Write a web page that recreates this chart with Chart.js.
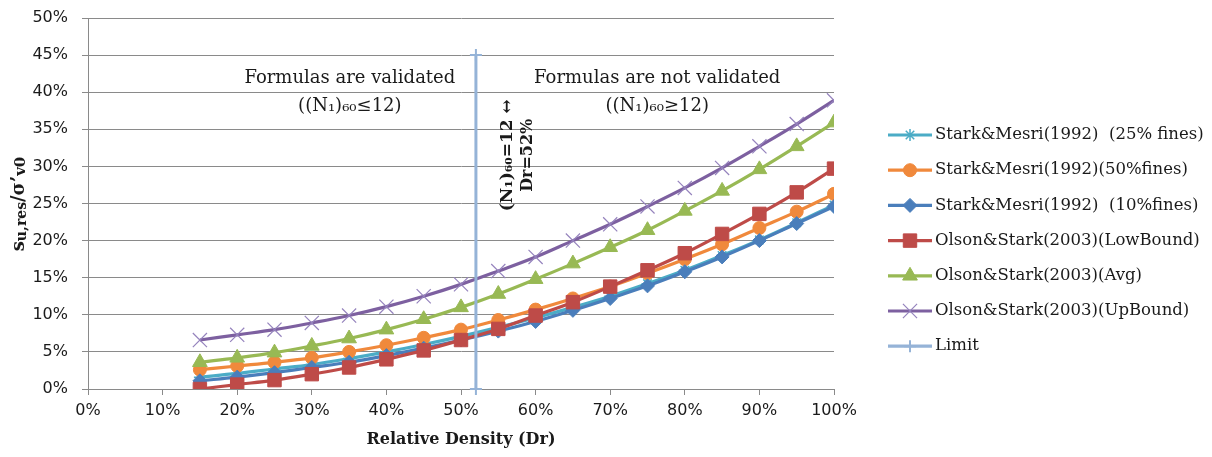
<!DOCTYPE html>
<html>
<head>
<meta charset="utf-8">
<script src="https://cdn.jsdelivr.net/npm/chart.js@4.4.0/dist/chart.umd.min.js"></script>
<style>
  html, body { margin: 0; padding: 0; background: #ffffff; }
  #wrap { width: 1212px; height: 457px; }
</style>
</head>
<body>
<div id="wrap"><canvas id="c" width="1212" height="457"></canvas></div>
<script>
// Relative density (%) at which each curve is evaluated
const densities = [15, 20, 25, 30, 35, 40, 45, 50, 55, 60, 65, 70, 75, 80, 85, 90, 95, 100];

// Residual strength ratio su,res/σ'v0 (%)
const starkMesri25 = [1.6, 2.1, 2.7, 3.3, 4.1, 5.0, 6.0, 7.1, 8.3, 9.6, 11.0, 12.5, 14.2, 16.0, 18.0, 20.1, 22.4, 24.8];
const starkMesri50 = [2.6, 3.1, 3.6, 4.2, 5.0, 5.9, 6.9, 8.0, 9.3, 10.7, 12.2, 13.8, 15.6, 17.5, 19.5, 21.7, 23.9, 26.3];
const starkMesri10 = [1.1, 1.6, 2.2, 2.9, 3.6, 4.5, 5.5, 6.6, 7.8, 9.1, 10.6, 12.2, 13.9, 15.8, 17.8, 20.0, 22.3, 24.6];
const olsonLow     = [0.0, 0.6, 1.2, 2.0, 2.9, 4.0, 5.2, 6.6, 8.1, 9.9, 11.7, 13.8, 16.0, 18.3, 20.9, 23.6, 26.5, 29.7];
const olsonAvg     = [3.6, 4.2, 4.9, 5.8, 6.8, 8.0, 9.4, 11.0, 12.8, 14.8, 16.9, 19.1, 21.4, 24.0, 26.7, 29.6, 32.7, 35.9];
const olsonUp      = [6.6, 7.3, 8.0, 8.9, 9.9, 11.1, 12.5, 14.1, 15.9, 17.8, 20.0, 22.2, 24.6, 27.1, 29.8, 32.7, 35.7, 38.9];

// Validity limit at Dr = 52 %
const limitX = [52, 52];
const limitY = [0, 45];

// Axis tick values
const xTicks = [0, 10, 20, 30, 40, 50, 60, 70, 80, 90, 100];
const yTicks = [0, 5, 10, 15, 20, 25, 30, 35, 40, 45, 50];

const seriesNames = [
  'Stark&Mesri(1992)  (25% fines)',
  'Stark&Mesri(1992)(50%fines)',
  'Stark&Mesri(1992)  (10%fines)',
  'Olson&Stark(2003)(LowBound)',
  'Olson&Stark(2003)(Avg)',
  'Olson&Stark(2003)(UpBound)',
  'Limit'
];

const pairs = (xs, ys) => xs.map((x, i) => ({ x: x, y: ys[i] }));

const SERIF = '"DejaVu Serif", serif';
const SANS = '"DejaVu Sans", sans-serif';
const GRID = '#8a8a8a';
const INK = '#1a1a1a';

function curve(label, values, color, style, radius, order, extra) {
  return Object.assign({
    label: label,
    data: pairs(densities, values),
    borderColor: color,
    backgroundColor: color,
    pointBackgroundColor: color,
    pointBorderColor: color,
    borderWidth: 3.2,
    pointStyle: style,
    pointRadius: radius,
    pointBorderWidth: 1,
    tension: 0.4,
    order: order
  }, extra || {});
}

const datasets = [
  curve(seriesNames[0], starkMesri25, '#4BACC6', 'star', 6, 6, { pointBorderWidth: 1.5 }),
  curve(seriesNames[1], starkMesri50, '#F0893C', 'circle', 6.5, 5),
  curve(seriesNames[2], starkMesri10, '#4A7EBB', 'rectRot', 7, 4),
  curve(seriesNames[3], olsonLow, '#BE4B48', 'rect', 9.5, 3),
  curve(seriesNames[4], olsonAvg, '#98B954', 'triangle', 8.5, 2),
  curve(seriesNames[5], olsonUp, '#7D60A0', 'crossRot', 10, 1, { pointBorderWidth: 1.2, pointBorderColor: '#9583BD' }),
  {
    label: seriesNames[6],
    data: pairs(limitX, limitY),
    borderColor: '#95B3D7',
    backgroundColor: '#95B3D7',
    pointBorderColor: '#95B3D7',
    borderWidth: 3,
    pointStyle: 'cross',
    pointRadius: 6,
    pointBorderWidth: 2,
    tension: 0,
    clip: 12,
    order: 0
  }
];

function drawMarker(ctx, ds, x, y) {
  const opts = {
    pointStyle: ds.pointStyle,
    radius: ds.pointRadius,
    rotation: 0,
    borderWidth: ds.pointBorderWidth
  };
  ctx.save();
  ctx.fillStyle = ds.pointBackgroundColor || ds.backgroundColor;
  ctx.strokeStyle = ds.pointBorderColor || ds.borderColor;
  ctx.lineWidth = ds.pointBorderWidth;
  Chart.helpers.drawPoint(ctx, opts, x, y);
  ctx.restore();
}

// Legend on the right: line sample with marker, then series name
const sideLegend = {
  id: 'sideLegend',
  afterDraw(chart) {
    const ctx = chart.ctx;
    const x0 = 888, x1 = 932, tx = 935;
    const top = 135, step = 35.2;
    chart.data.datasets.forEach((ds, i) => {
      const y = top + i * step;
      ctx.save();
      ctx.strokeStyle = ds.borderColor;
      ctx.lineWidth = 3.2;
      ctx.beginPath();
      ctx.moveTo(x0, y);
      ctx.lineTo(x1, y);
      ctx.stroke();
      ctx.restore();
      drawMarker(ctx, ds, (x0 + x1) / 2, y);
      ctx.save();
      ctx.fillStyle = INK;
      ctx.font = '16.5px ' + SERIF;
      ctx.textBaseline = 'middle';
      ctx.textAlign = 'left';
      ctx.fillText(ds.label, tx, y);
      ctx.restore();
    });
  }
};

// Region notes and axis titles
const notes = {
  id: 'notes',
  afterDraw(chart) {
    const ctx = chart.ctx;
    const xs = chart.scales.x, ys = chart.scales.y;
    const px = v => xs.getPixelForValue(v);
    const py = v => ys.getPixelForValue(v);
    ctx.save();
    ctx.fillStyle = INK;
    ctx.textAlign = 'center';
    ctx.textBaseline = 'middle';
    ctx.font = '18px ' + SERIF;
    ctx.fillText('Formulas are validated', px(35.1), py(41.9));
    ctx.fillText('((N\u2081)\u2086\u2080\u226412)', px(35.1), py(38.1));
    ctx.fillText('Formulas are not validated', px(76.3), py(41.9));
    ctx.fillText('((N\u2081)\u2086\u2080\u226512)', px(76.3), py(38.1));

    // rotated label at the limit line
    ctx.font = 'bold 17px ' + SERIF;
    ctx.save();
    ctx.translate(px(56.3), py(31.5));
    ctx.rotate(-Math.PI / 2);
    ctx.fillText('(N\u2081)\u2086\u2080=12 \u2194', 0, 0);
    ctx.restore();
    ctx.font = 'bold 16px ' + SERIF;
    ctx.save();
    ctx.translate(px(58.9), py(31.5));
    ctx.rotate(-Math.PI / 2);
    ctx.fillText('Dr=52%', 0, 0);
    ctx.restore();

    // x axis title
    ctx.font = 'bold 16px ' + SERIF;
    ctx.fillText('Relative Density (Dr)', (chart.chartArea.left + chart.chartArea.right) / 2, 440);

    // y axis title with subscripts
    const parts = [
      { t: 's', f: 'bold 18px ' + SERIF, dy: 0 },
      { t: 'u,res', f: 'bold 14px ' + SERIF, dy: 3 },
      { t: '/\u03c3\u2019', f: 'bold 18px ' + SERIF, dy: 0 },
      { t: 'v0', f: 'bold 15px ' + SERIF, dy: 2 }
    ];
    let total = 0;
    parts.forEach(p => { ctx.font = p.f; p.w = ctx.measureText(p.t).width; total += p.w; });
    ctx.save();
    ctx.translate(19, 204);
    ctx.rotate(-Math.PI / 2);
    ctx.textAlign = 'left';
    let cx = -total / 2;
    parts.forEach(p => {
      ctx.font = p.f;
      ctx.fillText(p.t, cx, p.dy);
      cx += p.w;
    });
    ctx.restore();
    ctx.restore();
  }
};

new Chart(document.getElementById('c'), {
  type: 'line',
  data: { datasets: datasets },
  options: {
    responsive: false,
    animation: false,
    devicePixelRatio: 1,
    layout: { padding: { top: 18, right: 378, bottom: 0, left: 0 } },
    plugins: {
      legend: { display: false },
      tooltip: { enabled: false }
    },
    scales: {
      x: {
        type: 'linear',
        min: 0,
        max: 100,
        afterBuildTicks: s => { s.ticks = xTicks.map(v => ({ value: v })); },
        afterFit: s => { s.height = 68; },
        ticks: {
          callback: v => v + '%',
          font: { family: SANS, size: 16 },
          color: INK,
          padding: 6,
          maxRotation: 0
        },
        grid: { drawOnChartArea: false, drawTicks: true, tickLength: 6, color: GRID },
        border: { display: true, color: GRID, width: 1 }
      },
      y: {
        type: 'linear',
        min: 0,
        max: 50,
        afterBuildTicks: s => { s.ticks = yTicks.map(v => ({ value: v })); },
        afterFit: s => { s.width = 88; s.paddingTop = 0; s.paddingBottom = 0; },
        ticks: {
          callback: v => v + '%',
          font: { family: SANS, size: 16 },
          color: INK,
          padding: 14
        },
        grid: { color: GRID, tickLength: 6, lineWidth: 1 },
        border: { display: true, color: GRID, width: 1 }
      }
    }
  },
  plugins: [sideLegend, notes]
});
</script>
</body>
</html>
